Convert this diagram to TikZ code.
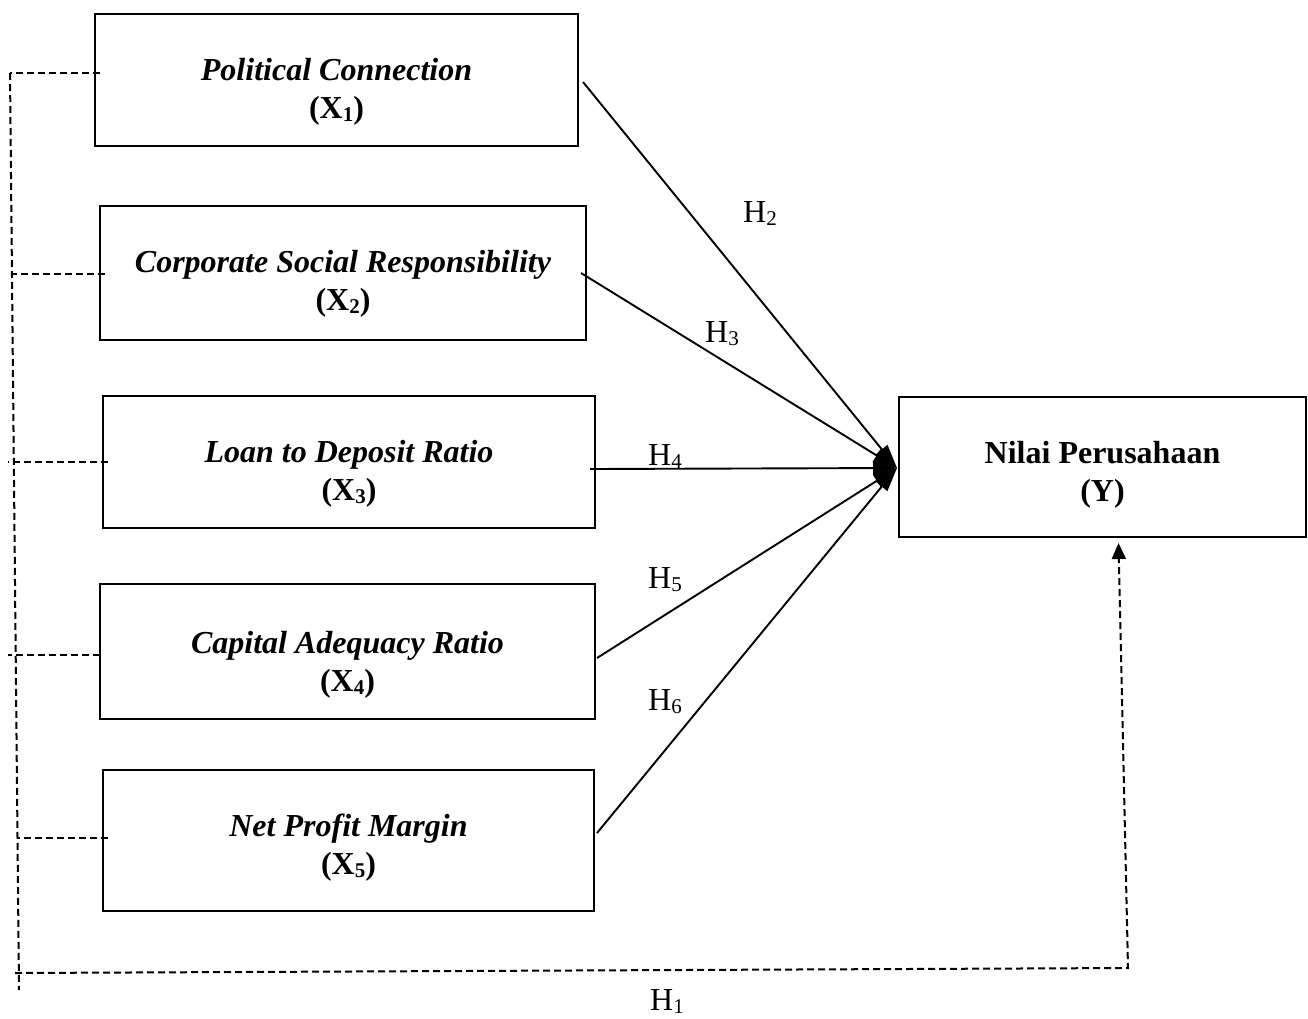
\documentclass[tikz,border=0pt]{standalone}
\usepackage{fontspec}
\setmainfont{Liberation Serif}
\usetikzlibrary{arrows.meta,calc}
\newcommand\subx[1]{\raisebox{-3pt}{\fontsize{21}{21}\selectfont #1}}
\begin{document}
\begin{tikzpicture}[x=1pt,y=-1pt,
  box/.style={draw,line width=2pt,inner sep=0pt,outer sep=0pt},
  lbl/.style={font=\fontsize{32}{38}\selectfont\bfseries,align=center,inner sep=0pt},
  hl/.style={font=\fontsize{32}{38}\selectfont,inner sep=0pt,anchor=base west},
  conn/.style={line width=1.9pt,-{Triangle[length=24pt,width=14pt]}},
  dashline/.style={line width=2pt,dash pattern=on 7pt off 4pt},
  dasharrow/.style={dashline,-{Triangle[length=16pt,width=14pt]}}]
\useasboundingbox (0,0) rectangle (1308,1018);
\fill[white] (0,0) rectangle (1308,1018);
% boxes
\node[box,minimum width=483pt,minimum height=132pt] (x1) at (336.5,80) {};
\node[box,minimum width=486pt,minimum height=134pt] (x2) at (343,273) {};
\node[box,minimum width=492pt,minimum height=132pt] (x3) at (349,462) {};
\node[box,minimum width=495pt,minimum height=135pt] (x4) at (347.5,651.5) {};
\node[box,minimum width=491pt,minimum height=141pt] (x5) at (348.5,840.5) {};
\node[box,minimum width=407pt,minimum height=140pt] (y) at (1102.5,467) {};
% texts
\node[lbl] (t1) at ($(x1.center)+(0,12)$) {\textit{Political Connection}\\(X\subx{1})};
\node[lbl] (t2) at ($(x2.center)+(0,11)$) {\textit{Corporate Social Responsibility}\\(X\subx{2})};
\node[lbl] (t3) at ($(x3.center)+(0,12)$) {\textit{Loan to Deposit Ratio}\\(X\subx{3})};
\node[lbl] (t4) at ($(x4.center)+(0,13)$) {\textit{Capital Adequacy Ratio}\\(X\subx{4})};
\node[lbl] (t5) at ($(x5.center)+(0,7)$) {\textit{Net Profit Margin}\\(X\subx{5})};
\node[lbl] (ty) at ($(y.center)+(0,8)$) {Nilai Perusahaan\\(Y)};
% hypothesis labels
\node[hl] (h2) at (743,222) {H\subx{2}};
\node[hl] (h3) at (705,342) {H\subx{3}};
\node[hl] (h4) at (648,465) {H\subx{4}};
\node[hl] (h5) at (648,588) {H\subx{5}};
\node[hl] (h6) at (648,710) {H\subx{6}};
\node[hl] (h1) at (650,1010) {H\subx{1}};
% target point
\coordinate (tg) at ($(y.west)+(-2,1)$);
% solid arrows
\draw[conn] ([shift={(5,2)}]x1.east) -- (tg);
\draw[conn] ([shift={(-5,0)}]x2.east) -- (tg);
\draw[conn] ([shift={(-5,7)}]x3.east) -- (tg);
\draw[conn] ([shift={(2,6.5)}]x4.east) -- (tg);
\draw[conn] ([shift={(3,-7.5)}]x5.east) -- (tg);
% dashed spine
\coordinate (st) at (10,73);
\coordinate (sb) at (19,990);
\coordinate (s2) at (12,274);
\coordinate (s3) at (8,462);
\coordinate (s4) at (8,655);
\coordinate (s5) at (17,838);
\coordinate (b1) at (15,973);
\coordinate (b2) at (1128,968);
\draw[dashline] (st) -- (sb);
\draw[dashline] ([shift={(5,-7)}]x1.west) -- (st);
\draw[dashline] ([shift={(5,1)}]x2.west) -- (s2);
\draw[dashline] ([shift={(5,0)}]x3.west) -- (s3);
\draw[dashline] ([shift={(0,3.5)}]x4.west) -- (s4);
\draw[dashline] ([shift={(5,-2.5)}]x5.west) -- (s5);
\draw[dasharrow] (b1) -- (b2) -- ([shift={(16,6)}]y.south);
\end{tikzpicture}
\end{document}
